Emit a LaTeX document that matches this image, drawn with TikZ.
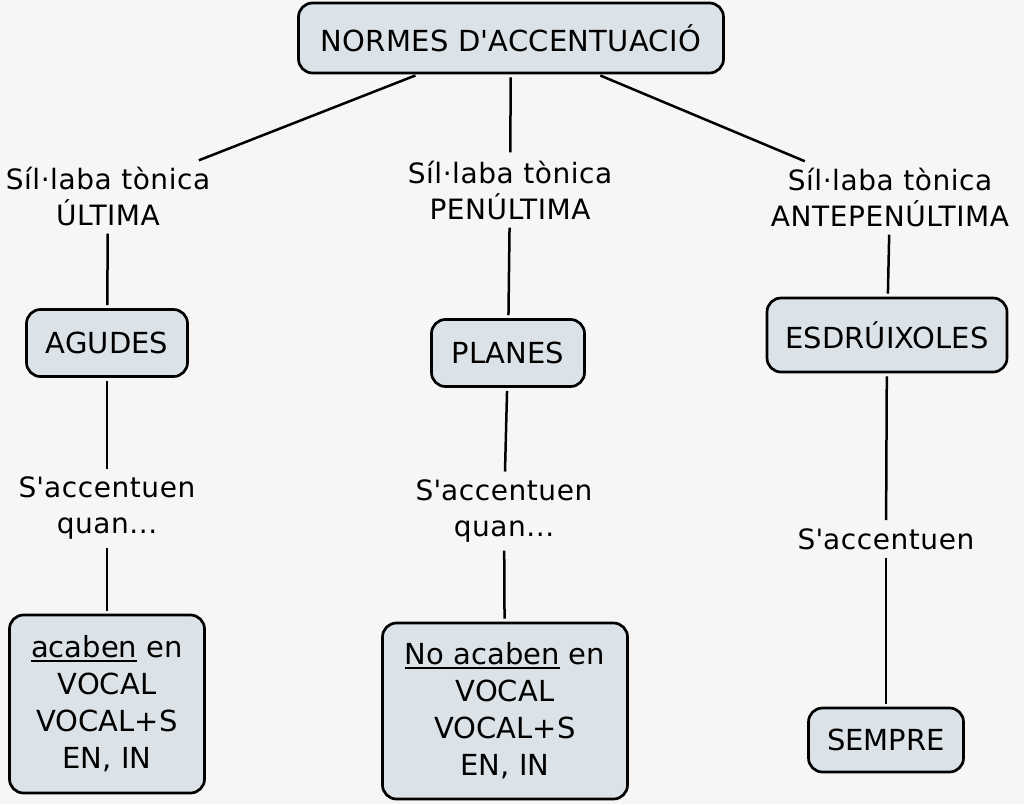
\documentclass[tikz,border=0pt]{standalone}
\usepackage{fontspec}
\setmainfont{DejaVu Sans}
\definecolor{fonscol}{RGB}{246,246,246}
\definecolor{caixacol}{RGB}{219,227,232}
\newcommand{\subratlla}[1]{\setbox0\hbox{#1}\rlap{\rule[-4pt]{\wd0}{1.8pt}}\box0\relax}
\newcommand{\apos}{\textquotesingle}

\begin{document}
\begin{tikzpicture}[x=1pt,y=-1pt,
  concepte/.style={rectangle,rounded corners=14pt,draw=black,line width=2.7pt,fill=caixacol,inner sep=0pt,align=center,font=\fontsize{29}{37}\selectfont},
  enllac/.style={align=center,inner sep=5pt,font=\fontsize{28}{36}\selectfont\addfontfeature{LetterSpace=2}},
  linia/.style={line width=2.5pt,shorten <=3pt,shorten >=3pt}]

      \fill[fonscol] (0,0) rectangle (1024,804);
      \useasboundingbox (0,0) rectangle (1024,804);

      \node[concepte,minimum width=425pt,minimum height=70pt,font=\fontsize{29}{36}\selectfont\addfontfeature{LetterSpace=1}] (N) at (511,38){NORMES D\apos ACCENTUACIÓ};

      \node[enllac] (ult) at (108,196){Síl·laba tònica\\ÚLTIMA};
      \node[enllac] (pen) at (510,190){Síl·laba tònica\\PENÚLTIMA};
      \node[enllac] (ant) at (890,197){Síl·laba tònica\\ANTEPENÚLTIMA};

      \node[concepte,minimum width=161pt,minimum height=67pt] (agudes) at (107,343){AGUDES};
      \node[concepte,minimum width=153pt,minimum height=67pt] (planes) at (508,353){PLANES};
      \node[concepte,minimum width=240pt,minimum height=74pt] (esdr) at (887,335){ESDRÚIXOLES};

      \node[enllac] (quanA) at (107,508){S\apos accentuen\\quan...};
      \node[enllac] (quanP) at (504,511){S\apos accentuen\\quan...};
      \node[enllac] (accE) at (886,539){S\apos accentuen};

      \node[concepte,minimum width=195pt,minimum height=178pt] (acabA) at (107,704){\subratlla{acaben} en\\VOCAL\\VOCAL+S\\EN, IN};
      \node[concepte,minimum width=245pt,minimum height=176pt] (acabP) at (505,711){\subratlla{No acaben} en\\VOCAL\\VOCAL+S\\EN, IN};
      \node[concepte,minimum width=155pt,minimum height=64pt] (sempre) at (886,740){SEMPRE};

      \draw[linia] (N) -- (ult);
      \draw[linia] (N) -- (pen);
      \draw[linia] (N) -- (ant);
      \draw[linia] (ult) -- (agudes);
      \draw[linia] (pen) -- (planes);
      \draw[linia] (ant) -- (esdr);
      \draw[linia] (agudes) -- (quanA);
      \draw[linia] (planes) -- (quanP);
      \draw[linia] (esdr) -- (accE);
      \draw[linia] (quanA) -- (acabA);
      \draw[linia] (quanP) -- (acabP);
      \draw[linia] (accE) -- (sempre);

    \end{tikzpicture}
\end{document}
